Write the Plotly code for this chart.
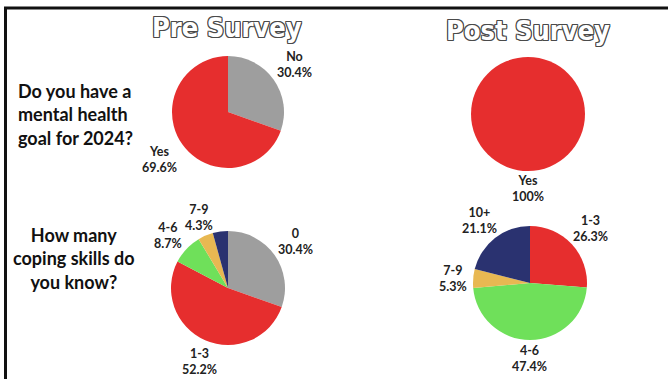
import plotly.graph_objects as go

W, H = 668, 379

# Survey results (percent of respondents)
goal_labels = ["No", "Yes"]
goal_pre = [30.4, 69.6]
goal_post_labels = ["Yes"]
goal_post = [100]

skills_pre_labels = ["0", "1-3", "4-6", "7-9", "10+"]
skills_pre = [30.4, 52.2, 8.7, 4.3, 4.3]
skills_post_labels = ["1-3", "4-6", "7-9", "10+"]
skills_post = [26.3, 47.4, 5.3, 21.1]

colors = {
    "No": "#9E9E9E", "0": "#9E9E9E", "Yes": "#E62E2E", "1-3": "#E62E2E",
    "4-6": "#6FE05A", "7-9": "#E8B852", "10+": "#2A3270",
}

def px_x(v):
    return v / W

def px_y(v):
    return 1 - v / H

def domain(cx, cy, r):
    return dict(x=[px_x(cx - r), px_x(cx + r)], y=[px_y(cy + r), px_y(cy - r)])

fig = go.Figure()

pies = [
    (goal_labels, goal_pre, (228, 112, 56)),
    (goal_post_labels, goal_post, (528, 114, 57)),
    (skills_pre_labels, skills_pre, (228, 288, 57)),
    (skills_post_labels, skills_post, (530, 283, 57)),
]
for labels, values, (cx, cy, r) in pies:
    fig.add_trace(go.Pie(
        labels=labels, values=values, sort=False, direction="clockwise",
        rotation=0, textinfo="none", hoverinfo="label+value",
        marker=dict(colors=[colors[l] for l in labels], line=dict(width=0)),
        domain=domain(cx, cy, r), showlegend=False,
    ))

# Label placement (pixel centres) for each pie's slice labels; None = unlabelled
label_pos = {
    0: [(294, 65), (159, 160)],
    1: [(528, 188)],
    2: [(295, 241), (199, 361), (168, 235), (199, 217), None],
    3: [(590, 228), (529, 358), (453, 278), (479, 220)],
}
label_font = dict(family="Lato, sans-serif", size=12.5, color="#222222", weight="bold")
for i, (labels, values, _) in enumerate(pies):
    for j, (lab, val) in enumerate(zip(labels, values)):
        pos = label_pos[i][j]
        if pos is None:
            continue
        txt = f"{lab}<br>{val:g}%"
        fig.add_annotation(x=px_x(pos[0]), y=px_y(pos[1]), xref="paper", yref="paper",
                           text=txt, showarrow=False, font=label_font,
                           xanchor="center", yanchor="middle")

# Column headings with outlined lettering
oc = "#4a4a4a"
outline = ", ".join(f"{dx}px {dy}px 0 {oc}" for dx, dy in
                    [(-1, -1), (1, -1), (-1, 1), (1, 1), (0, 1), (0, -1), (1, 0), (-1, 0)])
title_font = dict(family="Liberation Sans Narrow, DejaVu Sans Condensed, sans-serif",
                  size=27, color="white", weight="bold", shadow=outline)
fig.add_annotation(x=px_x(227), y=px_y(27), xref="paper", yref="paper", text="Pre Survey",
                   showarrow=False, font=title_font, xanchor="center", yanchor="middle")
fig.add_annotation(x=px_x(528), y=px_y(30), xref="paper", yref="paper", text="Post Survey",
                   showarrow=False, font=title_font, xanchor="center", yanchor="middle")

# Row questions
q_font = dict(family="Lato, sans-serif", size=18, color="#111111", weight="bold")
fig.add_annotation(x=px_x(16), y=px_y(115), xref="paper", yref="paper",
                   text="Do you have a<br>mental health<br>goal for 2024?",
                   showarrow=False, font=q_font, xanchor="left", yanchor="middle", align="left")
fig.add_annotation(x=px_x(74), y=px_y(258), xref="paper", yref="paper",
                   text="How many<br>coping skills do<br>you know?",
                   showarrow=False, font=q_font, xanchor="center", yanchor="middle", align="center")

# Frame along the top and left edges
fig.add_shape(type="line", xref="paper", yref="paper", x0=px_x(4), x1=1, y0=px_y(8), y1=px_y(8),
              line=dict(color="#111111", width=3))
fig.add_shape(type="line", xref="paper", yref="paper", x0=px_x(5.5), x1=px_x(5.5), y0=px_y(7), y1=0,
              line=dict(color="#111111", width=3))

fig.update_layout(width=W, height=H, margin=dict(l=0, r=0, t=0, b=0),
                  paper_bgcolor="white", plot_bgcolor="white")

fig.write_html("out.html")
